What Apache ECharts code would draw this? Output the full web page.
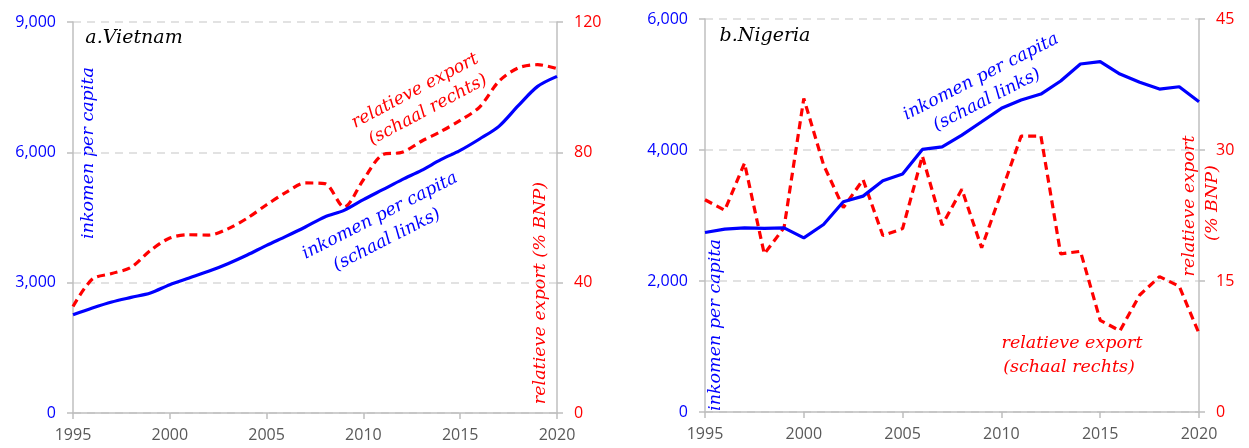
<!DOCTYPE html>
<html>
<head>
<meta charset="utf-8">
<script src="https://cdn.jsdelivr.net/npm/echarts@6/dist/echarts.min.js"></script>
<style>
  html, body { margin: 0; padding: 0; background: #fff; }
  #chart { width: 1249px; height: 448px; }
</style>
</head>
<body>
<div id="chart"></div>
<script>
  // jaren 1995 - 2020
  var years = [];
  for (var y = 1995; y <= 2020; y++) years.push(String(y));

  // a. Vietnam
  var vnIncome = [2263, 2417, 2555, 2661, 2762, 2953, 3107, 3260, 3437, 3637, 3858, 4066, 4282,
                  4512, 4664, 4910, 5140, 5371, 5585, 5831, 6045, 6307, 6598, 7074, 7518, 7749];
  var vnExport = [32.7, 41.1, 42.8, 44.7, 49.9, 53.7, 54.7, 54.6, 56.5, 59.8, 63.9, 67.7, 70.6,
                  70.4, 63.2, 71.6, 79.3, 80.0, 83.4, 86.4, 89.8, 93.9, 101.8, 105.9, 106.9, 105.7];

  // b. Nigeria
  var ngIncome = [2741, 2791, 2811, 2802, 2811, 2659, 2863, 3209, 3296, 3530, 3632, 4009, 4049,
                  4228, 4431, 4636, 4762, 4854, 5053, 5313, 5348, 5160, 5033, 4930, 4966, 4736];
  var ngExport = [24.3, 23.1, 28.5, 18.1, 21.1, 35.9, 28.3, 23.4, 26.6, 20.2, 21.0, 29.3, 21.4,
                  25.5, 18.8, 25.2, 31.6, 31.6, 18.1, 18.4, 10.5, 9.3, 13.4, 15.5, 14.4, 9.0];

  var BLUE = '#0000ff', RED = '#ff0000', GRAY = '#bfbfbf';
  var tickFont = '"Open Sans", "Liberation Sans", sans-serif';
  var noteFont = 'italic 17.5px "DejaVu Serif", serif';

  function xAxis(gi) {
    return {
      type: 'category', gridIndex: gi, data: years, boundaryGap: false,
      axisLine: { lineStyle: { color: GRAY, width: 1.5 } },
      axisTick: { show: true, length: 6, interval: 4, lineStyle: { color: GRAY, width: 1.5 } },
      axisLabel: { interval: 4, margin: 14, color: '#595959', fontSize: 16, fontFamily: tickFont }
    };
  }

  function yLeft(gi, max, step) {
    return {
      type: 'value', gridIndex: gi, min: 0, max: max, interval: step, position: 'left',
      axisLine: { show: true, lineStyle: { color: GRAY, width: 1.5 } },
      axisTick: { show: true, length: 6, lineStyle: { color: GRAY, width: 1.5 } },
      axisLabel: { color: BLUE, fontSize: 16, fontFamily: tickFont, margin: 17,
        formatter: function (v) { return v.toLocaleString('en-US'); } },
      splitLine: { show: true, lineStyle: { color: '#d9d9d9', width: 1.5, type: [8, 6] } }
    };
  }

  function yRight(gi, max, step) {
    return {
      type: 'value', gridIndex: gi, min: 0, max: max, interval: step, position: 'right',
      axisLine: { show: true, lineStyle: { color: GRAY, width: 1.5 } },
      axisTick: { show: true, length: 6, lineStyle: { color: GRAY, width: 1.5 } },
      axisLabel: { color: RED, fontSize: 16, fontFamily: tickFont, margin: 17 },
      splitLine: { show: false }
    };
  }

  function note(text, x, y, color, deg) {
    return {
      type: 'text', x: x, y: y, rotation: (deg || 0) * Math.PI / 180,
      style: { text: text, font: noteFont, fill: color, textAlign: 'center', textVerticalAlign: 'middle' }
    };
  }

  var chart = echarts.init(document.getElementById('chart'));
  chart.setOption({
    animation: false,
    grid: [
      { left: 73, right: 692, top: 22, bottom: 35 },
      { left: 705, right: 50, top: 19, bottom: 36 }
    ],
    xAxis: [xAxis(0), xAxis(1)],
    yAxis: [yLeft(0, 9000, 3000), yRight(0, 120, 40), yLeft(1, 6000, 2000), yRight(1, 45, 15)],
    series: [
      { type: 'line', xAxisIndex: 0, yAxisIndex: 0, data: vnIncome, smooth: 0.3, symbol: 'none',
        lineStyle: { color: BLUE, width: 3.2 }, z: 3 },
      { type: 'line', xAxisIndex: 0, yAxisIndex: 1, data: vnExport, smooth: 0.3, symbol: 'none',
        lineStyle: { color: RED, width: 3.2, type: [8, 5] }, z: 2 },
      { type: 'line', xAxisIndex: 1, yAxisIndex: 2, data: ngIncome, symbol: 'none',
        lineStyle: { color: BLUE, width: 3.2 }, z: 3 },
      { type: 'line', xAxisIndex: 1, yAxisIndex: 3, data: ngExport, symbol: 'none',
        lineStyle: { color: RED, width: 3.2, type: [8, 5] }, z: 2 }
    ],
    graphic: [
      { type: 'text', x: 134, y: 38, style: { text: 'a.Vietnam', font: 'italic 19px "DejaVu Serif", serif', fill: '#000', textAlign: 'center', textVerticalAlign: 'middle' } },
      { type: 'text', x: 765, y: 36, style: { text: 'b.Nigeria', font: 'italic 19px "DejaVu Serif", serif', fill: '#000', textAlign: 'center', textVerticalAlign: 'middle' } },

      note('inkomen per capita', 88, 153, BLUE, 90),
      note('relatieve export (% BNP)', 540, 293, RED, 90),
      note('relatieve export', 415, 91, RED, 28),
      note('(schaal rechts)', 428, 110, RED, 28),
      note('inkomen per capita', 380, 216, BLUE, 27),
      note('(schaal links)', 387, 240, BLUE, 27),

      note('inkomen per capita', 715, 325, BLUE, 90),
      note('relatieve export', 1189, 206, RED, 90),
      note('(% BNP)', 1212, 203, RED, 90),
      note('inkomen per capita', 981, 77, BLUE, 27),
      note('(schaal links)', 987, 100, BLUE, 27),
      note('relatieve export', 1072, 343, RED, 0),
      note('(schaal rechts)', 1069, 367, RED, 0)
    ]
  });
</script>
</body>
</html>
